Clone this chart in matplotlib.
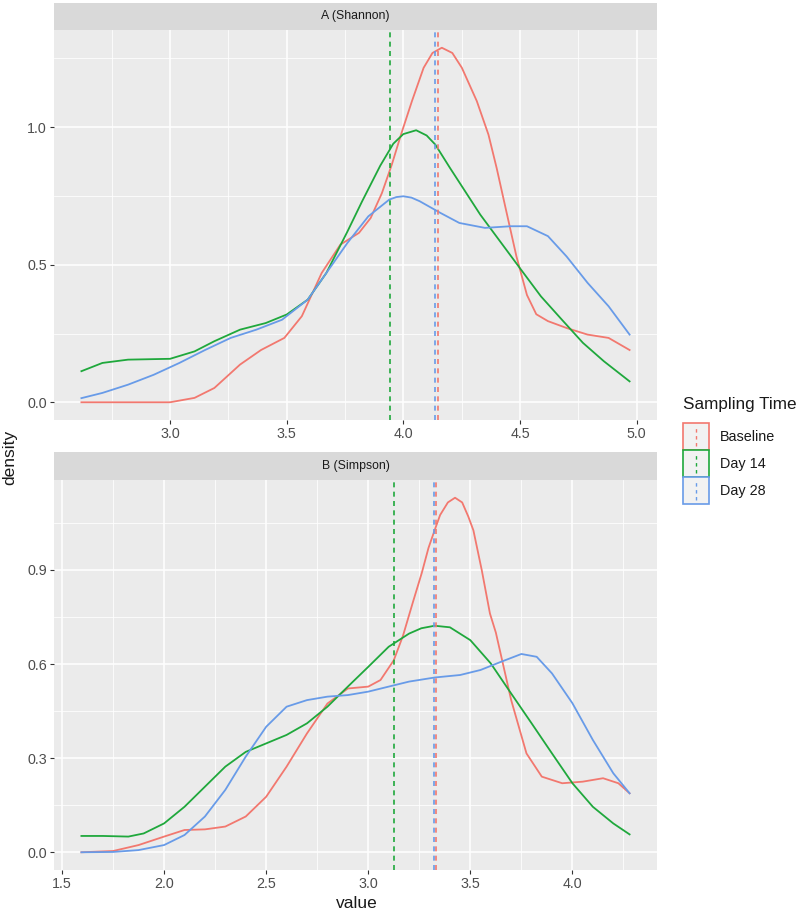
import matplotlib
matplotlib.use("Agg")
import matplotlib.pyplot as plt
from matplotlib.patches import Rectangle
from matplotlib.lines import Line2D
from matplotlib.legend_handler import HandlerBase
from matplotlib.ticker import MultipleLocator

plt.rcParams['font.family'] = ['Liberation Sans', 'DejaVu Sans']

groups = ["Baseline", "Day 14", "Day 28"]
colors = ["#F2786F", "#1FA83C", "#689BE8"]

# ---- Panel A (Shannon) ----
a_base_x = [2.62, 3.0, 3.105, 3.19, 3.30, 3.39, 3.49, 3.565, 3.65, 3.73, 3.81, 3.86, 3.908, 3.951, 3.99, 4.037, 4.087, 4.125, 4.165, 4.21, 4.251, 4.315, 4.365, 4.40, 4.44, 4.485, 4.53, 4.57, 4.62, 4.70, 4.79, 4.88, 4.97]
a_base_y = [0.0, 0.0, 0.016, 0.052, 0.137, 0.19, 0.234, 0.313, 0.47, 0.573, 0.616, 0.67, 0.76, 0.865, 0.973, 1.095, 1.216, 1.27, 1.289, 1.27, 1.216, 1.095, 0.973, 0.852, 0.70, 0.53, 0.39, 0.32, 0.295, 0.27, 0.246, 0.234, 0.19]
a_d14_x = [2.62, 2.71, 2.82, 3.0, 3.105, 3.19, 3.30, 3.41, 3.50, 3.59, 3.67, 3.76, 3.823, 3.901, 3.957, 4.00, 4.055, 4.10, 4.137, 4.20, 4.33, 4.42, 4.51, 4.59, 4.68, 4.77, 4.86, 4.97]
a_d14_y = [0.113, 0.143, 0.155, 0.158, 0.185, 0.222, 0.264, 0.288, 0.319, 0.373, 0.47, 0.62, 0.73, 0.86, 0.94, 0.975, 0.989, 0.97, 0.937, 0.852, 0.682, 0.579, 0.476, 0.385, 0.30, 0.216, 0.149, 0.076]
a_d28_x = [2.62, 2.71, 2.82, 2.93, 3.04, 3.15, 3.26, 3.37, 3.48, 3.59, 3.67, 3.76, 3.85, 3.94, 3.97, 4.00, 4.035, 4.07, 4.16, 4.24, 4.35, 4.46, 4.53, 4.62, 4.70, 4.79, 4.88, 4.97]
a_d28_y = [0.015, 0.034, 0.064, 0.10, 0.143, 0.19, 0.234, 0.264, 0.30, 0.373, 0.47, 0.579, 0.676, 0.737, 0.746, 0.749, 0.744, 0.731, 0.688, 0.652, 0.634, 0.64, 0.64, 0.604, 0.53, 0.434, 0.349, 0.246]
a_means = [4.15, 3.944, 4.135]

# ---- Panel B (Simpson) ----
b_base_x = [1.595, 1.75, 1.875, 2.0, 2.10, 2.20, 2.30, 2.40, 2.50, 2.60, 2.70, 2.80, 2.90, 3.0, 3.06, 3.125, 3.17, 3.22, 3.262, 3.295, 3.327, 3.352, 3.39, 3.425, 3.46, 3.49, 3.515, 3.556, 3.596, 3.625, 3.70, 3.775, 3.85, 3.95, 4.05, 4.15, 4.225, 4.28]
b_base_y = [0.0, 0.004, 0.023, 0.05, 0.071, 0.073, 0.082, 0.114, 0.177, 0.273, 0.379, 0.474, 0.522, 0.528, 0.549, 0.612, 0.69, 0.80, 0.89, 0.97, 1.03, 1.075, 1.115, 1.13, 1.115, 1.07, 1.026, 0.899, 0.761, 0.70, 0.485, 0.315, 0.241, 0.22, 0.225, 0.236, 0.22, 0.188]
b_d14_x = [1.595, 1.70, 1.825, 1.90, 2.0, 2.10, 2.20, 2.30, 2.40, 2.50, 2.60, 2.70, 2.80, 2.90, 3.0, 3.10, 3.20, 3.26, 3.325, 3.40, 3.50, 3.60, 3.70, 3.80, 3.90, 4.0, 4.10, 4.20, 4.28]
b_d14_y = [0.052, 0.052, 0.05, 0.06, 0.092, 0.145, 0.209, 0.273, 0.32, 0.347, 0.374, 0.411, 0.464, 0.528, 0.591, 0.655, 0.697, 0.714, 0.722, 0.717, 0.676, 0.602, 0.506, 0.411, 0.315, 0.22, 0.145, 0.092, 0.057]
b_d28_x = [1.595, 1.75, 1.875, 2.0, 2.10, 2.20, 2.30, 2.40, 2.50, 2.60, 2.70, 2.80, 2.90, 3.0, 3.10, 3.20, 3.325, 3.45, 3.55, 3.65, 3.75, 3.825, 3.90, 4.0, 4.10, 4.20, 4.28]
b_d28_y = [0.0, 0.001, 0.007, 0.023, 0.055, 0.114, 0.199, 0.305, 0.40, 0.464, 0.485, 0.496, 0.501, 0.512, 0.528, 0.544, 0.557, 0.565, 0.581, 0.607, 0.632, 0.623, 0.57, 0.475, 0.358, 0.252, 0.188]
b_means = [3.33, 3.125, 3.32]

panels = [
    dict(title="A (Shannon)", curves=[(a_base_x, a_base_y), (a_d14_x, a_d14_y), (a_d28_x, a_d28_y)],
         means=a_means, xticks=[3.0, 3.5, 4.0, 4.5, 5.0], xminor=0.25, yticks=[0.0, 0.5, 1.0], yminor=0.25),
    dict(title="B (Simpson)", curves=[(b_base_x, b_base_y), (b_d14_x, b_d14_y), (b_d28_x, b_d28_y)],
         means=b_means, xticks=[1.5, 2.0, 2.5, 3.0, 3.5, 4.0], xminor=0.25, yticks=[0.0, 0.3, 0.6, 0.9], yminor=0.15),
]

W, H = 800, 914
fig = plt.figure(figsize=(W / 100, H / 100), dpi=100)

panel_left, panel_right = 54, 657
boxes = [(30, 420, 3), (480, 870, 452)]  # panel top, panel bottom, strip top (px)

for p, (ptop, pbot, stop) in zip(panels, boxes):
    ax = fig.add_axes([panel_left / W, 1 - pbot / H, (panel_right - panel_left) / W, (pbot - ptop) / H])
    ax.set_facecolor("#EBEBEB")
    for s in ax.spines.values():
        s.set_visible(False)
    xmin = min(min(c[0]) for c in p["curves"]); xmax = max(max(c[0]) for c in p["curves"])
    ymin = 0.0; ymax = max(max(c[1]) for c in p["curves"])
    dx = (xmax - xmin) * 0.05; dy = (ymax - ymin) * 0.05
    ax.set_xlim(xmin - dx, xmax + dx)
    ax.set_ylim(ymin - dy, ymax + dy)
    ax.set_xticks(p["xticks"]); ax.set_yticks(p["yticks"])
    ax.xaxis.set_minor_locator(MultipleLocator(p["xminor"]))
    ax.yaxis.set_minor_locator(MultipleLocator(p["yminor"]))
    ax.set_xticklabels([f"{v:.1f}" for v in p["xticks"]])
    ax.set_yticklabels([f"{v:.1f}" for v in p["yticks"]])
    ax.grid(which="major", color="white", lw=1.1)
    ax.grid(which="minor", color="white", lw=0.55)
    ax.set_axisbelow(True)
    ax.tick_params(which="major", length=3, width=0.8, color="#333333", labelcolor="#4D4D4D", labelsize=10.3, pad=2)
    ax.tick_params(which="minor", length=0)
    for (xs, ys), col in zip(p["curves"], colors):
        ax.plot(xs, ys, color=col, lw=1.3, solid_joinstyle="round")
    for m, col in zip(p["means"], colors):
        ax.axvline(m, color=col, lw=1.2, ls=(0, (3, 2.6)))
    # strip
    sax = fig.add_axes([panel_left / W, 1 - ptop / H, (panel_right - panel_left) / W, (ptop - stop) / H])
    sax.set_facecolor("#D9D9D9")
    sax.set_xticks([]); sax.set_yticks([])
    for s in sax.spines.values():
        s.set_visible(False)
    sax.text(0.5, 0.5, p["title"], ha="center", va="center", fontsize=8.8, color="#1A1A1A", transform=sax.transAxes)

fig.text(10 / W, 1 - 457 / H, "density", rotation=90, ha="center", va="center", fontsize=12.5, color="#1A1A1A")
fig.text(357 / W, 1 - 903 / H, "value", ha="center", va="center", fontsize=12.5, color="#1A1A1A")


class KeyHandler(HandlerBase):
    def create_artists(self, legend, orig_handle, xdescent, ydescent, width, height, fontsize, trans):
        col = orig_handle.get_color()
        r = Rectangle((-xdescent, -ydescent), width, height, facecolor="#F2F2F2", edgecolor=col, lw=1.2, transform=trans)
        l = Line2D([-xdescent + width / 2] * 2, [-ydescent + 3, -ydescent + height - 3], color=col, lw=1.0,
                   ls=(0, (2.5, 2.5)), transform=trans)
        return [r, l]


fig.text(683 / W, 1 - 405 / H, "Sampling Time", ha="left", va="center", fontsize=12.3, color="#1A1A1A")
handles = [Line2D([], [], color=c) for c in colors]
leg = fig.legend(handles, groups, loc="upper left", bbox_to_anchor=(683 / W, 1 - 423 / H),
                 handler_map={Line2D: KeyHandler()}, frameon=False, fontsize=10.4,
                 handlelength=1.8, handleheight=2.49,
                 labelspacing=0.0, handletextpad=0.76, borderpad=0, borderaxespad=0)
for t in leg.get_texts():
    t.set_color("#1A1A1A")

fig.savefig("out.png", dpi=100)
